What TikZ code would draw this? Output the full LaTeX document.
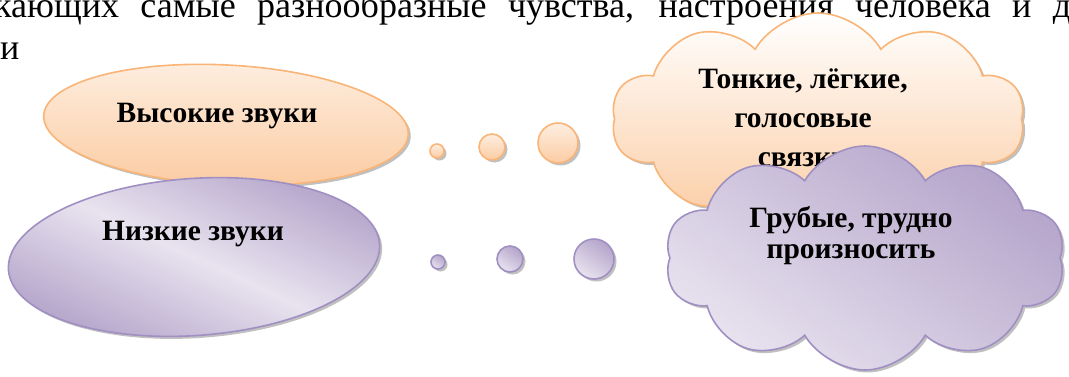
\documentclass[tikz,border=0pt]{standalone}
\usepackage{fontspec}
\setmainfont{Liberation Serif}
\usetikzlibrary{shapes,shadows,positioning}
\definecolor{oline}{RGB}{249,180,120}
\definecolor{olight}{RGB}{254,238,224}
\definecolor{odark}{RGB}{251,204,163}
\definecolor{pline}{RGB}{160,143,194}
\definecolor{plight}{RGB}{232,227,239}
\definecolor{pdark}{RGB}{180,164,202}

\begin{document}
\begin{tikzpicture}[% picture measured in pixels, y going down
					x=1pt, y=-1pt,
					every node/.style={
						align=center,		% lets "\\" break the lines
						inner sep=0pt
						},
					hishape/.style={draw=oline, line width=1.6pt, top color=olight, bottom color=odark,
						drop shadow={shadow xshift=2.5pt, shadow yshift=-2.5pt, fill=black!45, opacity=.55}},
					loshape/.style={draw=pline, line width=1.6pt, top color=pdark, bottom color=plight, shading angle=-35,
						drop shadow={shadow xshift=2.5pt, shadow yshift=-2.5pt, fill=black!45, opacity=.55}},
					label/.style={font=\bfseries\fontsize{29.5}{34}\selectfont},
					page/.style={anchor=base west, font=\fontsize{36}{40}\selectfont}
					]
\useasboundingbox (0,0) rectangle (1069,376);
\clip (0,0) rectangle (1069,376);
% running text of the page, cut by the picture
\node[page](P1) at (-6,17) {\makebox[1077pt][s]{кающих самые разнообразные чувства, настроения человека и д}};
\node[page](P2) at (0,59) {и};
% high sounds
\node[ellipse, hishape, minimum width=365pt, minimum height=120pt, rotate=-3](E1) at (226,125) {};
\node[label](T1) at (217,116) {Высокие звуки};
% low sounds
\node[ellipse, loshape, top color=pdark, bottom color=pdark, middle color=plight, shading angle=-25,
	minimum width=372pt, minimum height=157pt, rotate=4](E2) at (194,257) {};
\node[label](T2) at (193,234) {Низкие звуки};
% thought bubbles
\node[circle, hishape, minimum size=14pt](B1) at (437,151) {};
\node[circle, hishape, minimum size=26pt](B2) at (492,147) {};
\node[circle, hishape, minimum size=40pt](B3) at (558,143) {};
\node[circle, loshape, minimum size=14pt](B4) at (438,262) {};
\node[circle, loshape, minimum size=26pt](B5) at (510,259) {};
\node[circle, loshape, minimum size=40pt](B6) at (594,259) {};
% clouds
\node[cloud, hishape, top color=white, bottom color=odark, cloud puffs=10, cloud puff arc=120,
	minimum width=413pt, minimum height=212pt](C1) at (818,119) {};
\node[label, font=\bfseries\fontsize{29.5}{39}\selectfont](T3) at (803,118) {Тонкие, лёгкие,\\ голосовые\\ связки};
\node[cloud, loshape, cloud puffs=10, cloud puff arc=120,
	minimum width=400pt, minimum height=224pt](C2) at (865,258) {};
\node[label, font=\bfseries\fontsize{29.5}{31}\selectfont](T4) at (851,236) {Грубые, трудно\\ произносить};
\end{tikzpicture}
\end{document}
